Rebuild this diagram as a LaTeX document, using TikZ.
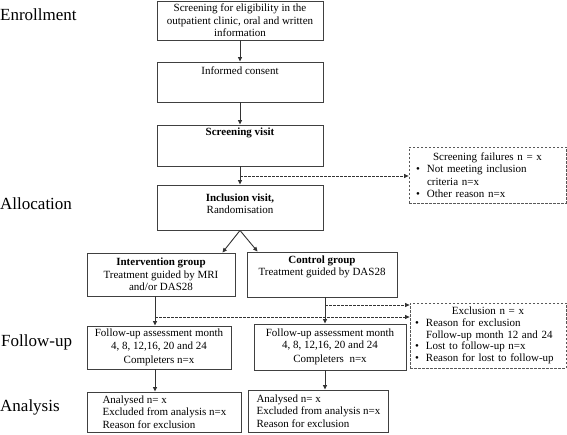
\documentclass[tikz,border=0pt]{standalone}
\usepackage{fontspec}
\setmainfont{Liberation Serif}
\usetikzlibrary{arrows.meta}
\begin{document}
\begin{tikzpicture}[x=1pt,y=-1pt,
  box/.style={draw=black!75, line width=0.9pt, inner sep=0pt, align=center,
    font=\fontsize{11}{12.5}\selectfont},
  dbox/.style={draw=black!65, line width=0.8pt, dash pattern=on 2.5pt off 1.5pt,
    inner xsep=3pt, inner ysep=0pt, align=left, font=\fontsize{11}{12.5}\selectfont},
  txt/.style={inner sep=0pt, align=center, font=\fontsize{11}{12.5}\selectfont},
  stage/.style={inner sep=0pt, anchor=west, font=\fontsize{17}{19}\selectfont},
  arr/.style={draw=black!80, line width=0.9pt, -{Triangle[length=4.5pt,width=4pt]}},
  darr/.style={draw=black!80, line width=0.8pt, dash pattern=on 2.5pt off 1.5pt,
    -{Triangle[length=4.5pt,width=4pt]}}
]
\useasboundingbox (0,0) rectangle (567,435);

% stage labels
\node[stage] (lenr) at (0,15) {Enrollment};
\node[stage] (lall) at (0,204) {Allocation};
\node[stage] (lfol) at (1,342) {Follow-up};
\node[stage] (lana) at (0,407) {Analysis};

% enrollment column
\node[box, minimum width=166pt, minimum height=39pt] (b1) at (240,20.5)
  {Screening for eligibility in the\\outpatient clinic, oral and written\\information};
\node[box, minimum width=166pt, minimum height=40pt] (b2) at (240,82) {};
\node[txt] (t2) at (240,71) {Informed consent};
\node[box, minimum width=166pt, minimum height=41pt] (b3) at (240,145.5) {};
\node[txt] (t3) at (240,133) {\textbf{Screening visit}};
\node[box, minimum width=166pt, minimum height=45pt] (inc) at (240,207.5) {};
\node[txt] (tinc) at (240,203.5) {\textbf{Inclusion visit,}\\Randomisation};

% screening failures
\node[dbox, text width=151pt, minimum height=56pt] (fail) at (487.5,175)
  {\makebox[\linewidth][c]{Screening failures n = x}\\
   \hspace*{4pt}\makebox[11pt][l]{\textbullet}Not meeting inclusion\\
   \hspace*{15pt}criteria n=x\\
   \hspace*{4pt}\makebox[11pt][l]{\textbullet}Other reason n=x};

% allocation
\node[box, minimum width=148pt, minimum height=43pt] (int) at (161,274.5)
  {\textbf{Intervention group}\\Treatment guided by MRI\\and/or DAS28};
\node[box, minimum width=150pt, minimum height=45pt] (ctl) at (322,274.5) {};
\node[txt] (tctl) at (322,267) {\textbf{Control group}\\Treatment guided by DAS28};

% follow-up
\node[box, minimum width=144pt, minimum height=43pt] (fuL) at (159,347.5)
  {Follow-up assessment month\\4, 8, 12,16, 20 and 24\\[1.5pt]Completers n=x};
\node[box, minimum width=152pt, minimum height=46pt] (fuR) at (330,347)
  {Follow-up assessment month\\4, 8, 12,16, 20 and 24\\[1.5pt]Completers\ \ n=x};

% exclusion
\node[dbox, text width=150pt, minimum height=65pt,
  font=\fontsize{11}{11.8}\selectfont] (excl) at (488,335.5)
  {\makebox[\linewidth][c]{Exclusion n = x}\\
   \hspace*{2pt}\makebox[11pt][l]{\textbullet}Reason for exclusion\\
   \hspace*{13pt}Follow-up month 12 and 24\\
   \hspace*{2pt}\makebox[11pt][l]{\textbullet}Lost to follow-up n=x\\
   \hspace*{2pt}\makebox[11pt][l]{\textbullet}Reason for lost to follow-up};

% analysis
\node[box, align=left, inner xsep=5pt, minimum width=154pt, minimum height=40pt,
  anchor=west] (anL) at (87,412)
  {Analysed n= x\\Excluded from analysis n=x\\Reason for exclusion};
\node[box, align=left, inner xsep=5pt, minimum width=140pt, minimum height=42pt,
  anchor=west] (anR) at (248,411)
  {Analysed n= x\\Excluded from analysis n=x\\Reason for exclusion};

% connectors
\draw[arr] (b1.south) -- (b2.north);
\draw[arr] (b2.south) -- (b3.north);
\draw[arr] (b3.south) -- (inc.north);
\coordinate (d1) at (240,176);
\draw[darr] (d1) -- (d1 -| fail.west);

\draw[arr] (inc.south) -- ([xshift=-13pt]int.north east);
\draw[arr] (inc.south) -- ([xshift=11pt]ctl.north west);

\coordinate (cl) at (155,0);
\coordinate (cr) at (325,0);
\draw[arr] (cl |- int.south) -- (cl |- fuL.north);
\draw[arr] (cl |- fuL.south) -- (cl |- anL.north);
\draw[arr] (cr |- ctl.south) -- (cr |- fuR.north);
\draw[arr] (cr |- fuR.south) -- (cr |- anR.north);

\coordinate (d2) at (325,305);
\coordinate (d3) at (155,317);
\draw[darr] (d2) -- (d2 -| excl.west);
\draw[darr] (d3) -- (d3 -| excl.west);
\end{tikzpicture}
\end{document}
